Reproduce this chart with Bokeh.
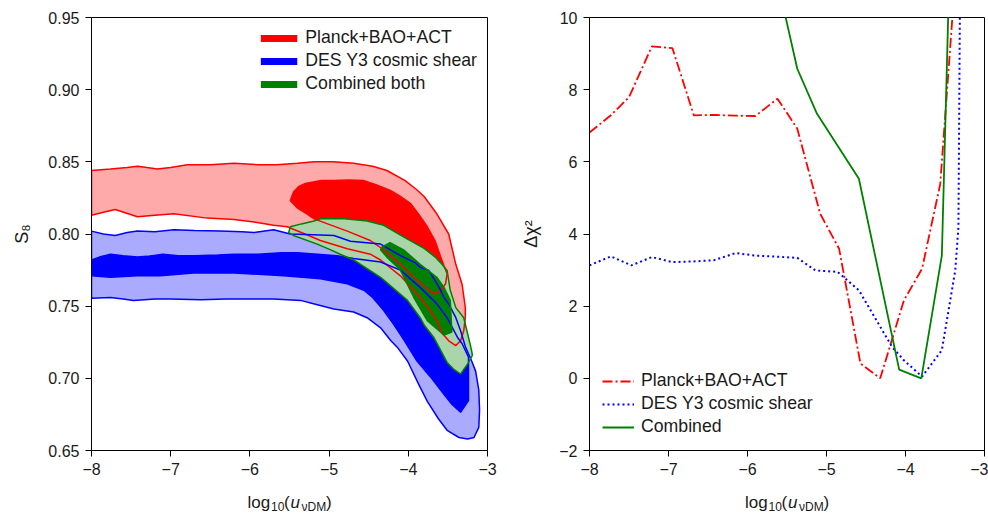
from bokeh.plotting import figure
from bokeh.layouts import row, column
from bokeh.models import Legend, LegendItem, FixedTicker
from bokeh.core.properties import value
from bokeh.embed import file_html
from bokeh.resources import INLINE

FONT = "Liberation Sans"

# ---------------- left panel: contour boundaries (log10 u, S8) ----------------
red_outer_x = [-8, -7.76, -7.55, -7.42, -7.3, -7.17, -7.0, -6.79, -6.5, -6.2, -5.9, -5.66, -5.4,
               -5.19, -4.95, -4.69, -4.45, -4.27, -4.04, -3.90, -3.80, -3.64, -3.49, -3.40, -3.32,
               -3.28, -3.28, -3.30, -3.34, -3.40, -3.49, -3.57, -3.64, -3.75, -3.85, -4.10, -4.35,
               -4.48, -4.77, -5.11, -5.35, -5.53, -5.70, -5.91, -6.2, -6.54, -6.96, -7.2, -7.42,
               -7.70, -7.85, -8]
red_outer_y = [0.844, 0.845, 0.846, 0.847, 0.846, 0.845, 0.846, 0.848, 0.848, 0.849, 0.848, 0.848, 0.849,
               0.850, 0.850, 0.849, 0.847, 0.844, 0.837, 0.831, 0.826, 0.814, 0.800, 0.779, 0.765,
               0.749, 0.742, 0.733, 0.726, 0.7227, 0.726, 0.731, 0.740, 0.749, 0.756, 0.771, 0.782,
               0.786, 0.7898, 0.7955, 0.801, 0.805, 0.806, 0.808, 0.810, 0.811, 0.814, 0.813, 0.812,
               0.817, 0.815, 0.813]

red_inner_x = [-5.49, -5.45, -5.38, -5.30, -5.1, -4.94, -4.75, -4.56, -4.4, -4.22, -4.1, -3.97, -3.86,
               -3.76, -3.66, -3.59, -3.55, -3.51, -3.53, -3.59, -3.66, -3.74, -3.91, -4.10, -4.31,
               -4.48, -4.77, -5.19, -5.28, -5.40]
red_inner_y = [0.823, 0.829, 0.833, 0.835, 0.837, 0.837, 0.8375, 0.837, 0.834, 0.830, 0.826, 0.821, 0.813,
               0.805, 0.795, 0.784, 0.778, 0.7725, 0.7655, 0.761, 0.7586, 0.761, 0.769, 0.779, 0.789,
               0.7955, 0.802, 0.8105, 0.814, 0.818]

blue_outer_x = [-8, -7.85, -7.70, -7.55, -7.42, -7.2, -6.96, -6.7, -6.37, -6.1, -5.95, -5.70, -5.49,
                -5.2, -4.94, -4.73, -4.35, -4.10, -3.91, -3.85, -3.74, -3.61, -3.55, -3.49, -3.40,
                -3.34, -3.28, -3.20, -3.15, -3.11, -3.10, -3.11, -3.17, -3.25, -3.36, -3.51, -3.62,
                -3.76, -3.87, -4.01, -4.14, -4.22, -4.35, -4.52, -4.69, -4.94, -5.15, -5.36, -5.7,
                -5.99, -6.3, -6.62, -7.0, -7.2, -7.47, -7.6, -7.76, -8]
blue_outer_y = [0.802, 0.800, 0.799, 0.801, 0.802, 0.8015, 0.803, 0.8025, 0.802, 0.8015, 0.801, 0.803, 0.800,
                0.7995, 0.799, 0.795, 0.793, 0.785, 0.780, 0.777, 0.7747, 0.763, 0.756, 0.7516, 0.742,
                0.733, 0.722, 0.712, 0.705, 0.692, 0.678, 0.666, 0.659, 0.658, 0.659, 0.664, 0.672,
                0.684, 0.696, 0.712, 0.7216, 0.726, 0.735, 0.742, 0.746, 0.748, 0.751, 0.754, 0.755,
                0.755, 0.755, 0.7544, 0.755, 0.755, 0.754, 0.755, 0.756, 0.7555]

blue_inner_x = [-8, -7.9, -7.76, -7.6, -7.42, -7.3, -7.1, -6.9, -6.7, -6.4, -6.2, -5.9, -5.6, -5.4,
                -5.15, -4.9, -4.69, -4.35, -4.10, -3.85, -3.64, -3.51, -3.38, -3.32, -3.24, -3.24,
                -3.34, -3.45, -3.55, -3.72, -3.89, -4.06, -4.18, -4.31, -4.45, -4.56, -4.77, -5.11,
                -5.57, -6.2, -6.71, -7.13, -7.42, -7.76, -8]
blue_inner_y = [0.782, 0.784, 0.786, 0.785, 0.784, 0.7845, 0.786, 0.785, 0.785, 0.7855, 0.786, 0.786, 0.787, 0.787,
                0.786, 0.785, 0.783, 0.7806, 0.775, 0.763, 0.7516, 0.742, 0.7285, 0.724, 0.7146, 0.6846,
                0.6765, 0.682, 0.689, 0.701, 0.712, 0.727, 0.737, 0.747, 0.756, 0.761, 0.7655, 0.769,
                0.771, 0.773, 0.773, 0.771, 0.771, 0.770, 0.771]

green_outer_x = [-5.51, -5.49, -5.35, -5.19, -5.11, -4.81, -4.52, -4.31, -4.06, -3.80, -3.66, -3.59,
                 -3.51, -3.47, -3.40, -3.30, -3.26, -3.21, -3.19, -3.25, -3.34, -3.42, -3.51, -3.68,
                 -3.80, -3.85, -4.01, -4.35, -4.69, -4.86, -4.98, -5.15, -5.45]
green_outer_y = [0.801, 0.805, 0.807, 0.809, 0.8105, 0.8105, 0.809, 0.806, 0.798, 0.790, 0.784, 0.780,
                 0.7747, 0.761, 0.749, 0.742, 0.733, 0.7216, 0.716, 0.710, 0.703, 0.706, 0.711, 0.7285,
                 0.737, 0.742, 0.754, 0.770, 0.782, 0.786, 0.789, 0.793, 0.799]

green_inner_x = [-4.35, -4.33, -4.23, -4.06, -3.85, -3.64, -3.55, -3.47, -3.45, -3.55, -3.76, -3.93,
                 -4.10, -4.27]
green_inner_y = [0.789, 0.791, 0.794, 0.789, 0.779, 0.770, 0.763, 0.754, 0.732, 0.730, 0.740, 0.756,
                 0.775, 0.784]

left_labels = ["Planck+BAO+ACT", "DES Y3 cosmic shear", "Combined both"]

# ---------------- right panel: delta chi^2 profiles ----------------
red_x = [-8, -7.73, -7.5, -7.21, -6.95, -6.68, -6.42, -6.16, -5.90, -5.62, -5.37, -5.08, -4.84,
         -4.57, -4.32, -4.02, -3.79, -3.56, -3.40, -3.30]
red_y = [6.81, 7.29, 7.79, 9.20, 9.15, 7.29, 7.30, 7.28, 7.27, 7.75, 6.92, 4.56, 3.59,
         0.41, 0.0, 2.16, 3.04, 5.39, 10.2, 14.0]

blue_x = [-8, -7.73, -7.47, -7.21, -6.95, -6.69, -6.43, -6.15, -5.90, -5.63, -5.37, -5.14, -4.86,
          -4.59, -4.17, -4.02, -3.79, -3.54, -3.37, -3.33, -3.30]
blue_y = [3.13, 3.38, 3.13, 3.36, 3.22, 3.24, 3.27, 3.47, 3.40, 3.37, 3.34, 2.99, 2.95,
          2.44, 0.87, 0.50, 0.05, 0.78, 2.99, 4.19, 14.0]

green_x = [-5.62, -5.37, -5.12, -4.59, -4.08, -3.80, -3.54, -3.46, -3.44]
green_y = [11.0, 8.58, 7.33, 5.53, 0.24, 0.0, 3.40, 10.0, 11.7]

right_labels = ["Planck+BAO+ACT", "DES Y3 cosmic shear", "Combined"]

# ---------------- ticks & axis label parts ----------------
x_ticks = [-8, -7, -6, -5, -4, -3]
x_tick_labels = ["\u22128", "\u22127", "\u22126", "\u22125", "\u22124", "\u22123"]
s8_ticks = [0.65, 0.70, 0.75, 0.80, 0.85, 0.90, 0.95]
s8_tick_labels = ["0.65", "0.70", "0.75", "0.80", "0.85", "0.90", "0.95"]
chi_ticks = [-2, 0, 2, 4, 6, 8, 10]
chi_tick_labels = ["\u22122", "0", "2", "4", "6", "8", "10"]
xlabel_parts = ["log", "10", "(", "u", "\u03bdDM", ")"]

RED, BLUE, GREEN = "#ff0000", "#0000ff", "#008000"
LRED, LBLUE, LGREEN = "#ffaaaa", "#aaaaff", "#aad5aa"
TXT = "#1a1a1a"

TOP, FRAME_H, BOTTOM = 17, 433, 32
H = TOP + FRAME_H + BOTTOM
LAB_H = 513 - H
W1, W2 = 515, 473
FW1, FW2 = 396, 395


def style(p, xt, xl, yt, yl):
    p.xgrid.grid_line_color = None
    p.ygrid.grid_line_color = None
    p.outline_line_color = "black"
    p.outline_line_width = 1
    p.xaxis.ticker = FixedTicker(ticks=xt)
    p.xaxis.major_label_overrides = dict(zip(xt, xl))
    p.yaxis.ticker = FixedTicker(ticks=yt)
    p.yaxis.major_label_overrides = dict(zip(yt, yl))
    for ax in p.xaxis + p.yaxis:
        ax.major_label_text_font = FONT
        ax.major_label_text_font_size = "16px"
        ax.major_label_text_color = TXT
        ax.major_tick_in = 0
        ax.major_tick_out = 6
        ax.minor_tick_line_color = None
        ax.axis_line_color = "black"
        ax.major_tick_line_color = "black"
        ax.axis_label_text_font = FONT
        ax.axis_label_text_font_size = "18px"
        ax.axis_label_text_font_style = "normal"
        ax.axis_label_text_color = TXT
    p.xaxis.major_label_standoff = 6
    p.yaxis.major_label_standoff = 6


def label_strip(width, frame_w):
    # strip below a panel (its frame is aligned with the panel frame) holding the
    # x label log10(u_nuDM) with real sub-scripts; x in pixels from the frame's left edge
    q = figure(width=width, height=LAB_H, x_range=(0, frame_w), y_range=(0, LAB_H),
               output_backend="svg", toolbar_location=None,
               x_axis_location=None, y_axis_location=None,
               min_border=0, min_border_left=0, min_border_right=0,
               min_border_top=0, min_border_bottom=0)
    q.outline_line_color = None
    q.xgrid.grid_line_color = None
    q.ygrid.grid_line_color = None
    x0 = frame_w / 2 - 42
    yb, ys = 11, 7
    offs = [0, 23.5, 36.5, 43, 54, 78.5]
    ypos = [yb, ys, yb, yb, ys, yb]
    sizes = ["17px", "12px", "17px", "17px", "12px", "17px"]
    styles = ["normal", "normal", "normal", "italic", "normal", "normal"]
    for txt, off, yy, fs, st in zip(xlabel_parts, offs, ypos, sizes, styles):
        q.text(x=[x0 + off], y=[yy], text=[txt], text_font=value(FONT),
               text_font_size=value(fs), text_font_style=value(st),
               text_color=TXT, text_baseline="alphabetic", text_align="left")
    return q


# ---------------- left figure ----------------
p1 = figure(width=W1, height=H, x_range=(-8, -3), y_range=(0.65, 0.95),
            output_backend="svg", toolbar_location=None,
            min_border_left=91, min_border_right=28, min_border_top=TOP, min_border_bottom=BOTTOM)
style(p1, x_ticks, x_tick_labels, s8_ticks, s8_tick_labels)
p1.yaxis.axis_label = "S\u2088"
p1.yaxis.axis_label_standoff = 13

p1.patch(red_outer_x, red_outer_y, fill_color=LRED, line_color=None)
p1.patch(blue_outer_x, blue_outer_y, fill_color=LBLUE, line_color=None)
p1.patch(red_inner_x, red_inner_y, fill_color=RED, line_color=None)
p1.patch(blue_inner_x, blue_inner_y, fill_color=BLUE, line_color=None)
p1.patch(green_outer_x, green_outer_y, fill_color=LGREEN, line_color=None)
p1.patch(green_inner_x, green_inner_y, fill_color=GREEN, line_color=None)
for xs, ys, c in [(red_outer_x, red_outer_y, RED), (red_inner_x, red_inner_y, RED),
                  (blue_outer_x, blue_outer_y, BLUE), (blue_inner_x, blue_inner_y, BLUE),
                  (green_outer_x, green_outer_y, GREEN), (green_inner_x, green_inner_y, GREEN)]:
    p1.patch(xs, ys, fill_color=None, line_color=c, line_width=1.5)

nan = float("nan")
leg1_items = []
for lab, c in zip(left_labels, [RED, BLUE, GREEN]):
    r = p1.line(x=[nan], y=[nan], line_color=c, line_width=7)
    leg1_items.append(LegendItem(label=lab, renderers=[r]))
leg1 = Legend(items=leg1_items, location="top_right", margin=10, padding=0, spacing=2,
              glyph_width=37, glyph_height=20, label_height=20, label_standoff=8,
              label_text_font=FONT, label_text_font_size="17.7px", label_text_color=TXT,
              background_fill_alpha=0, border_line_alpha=0)
p1.add_layout(leg1)
q1 = label_strip(W1, FW1)

# ---------------- right figure ----------------
p2 = figure(width=W2, height=H, x_range=(-8, -3), y_range=(-2, 10),
            output_backend="svg", toolbar_location=None,
            min_border_left=74, min_border_right=4, min_border_top=TOP, min_border_bottom=BOTTOM)
style(p2, x_ticks, x_tick_labels, chi_ticks, chi_tick_labels)
p2.yaxis.axis_label = "\u0394\u03c7\u00b2"
p2.yaxis.axis_label_standoff = 15

r_red = p2.line(red_x, red_y, line_color=RED, line_width=1.8, line_dash="10 3 2 3")
r_blue = p2.line(blue_x, blue_y, line_color=BLUE, line_width=2, line_dash="2 3")
r_green = p2.line(green_x, green_y, line_color=GREEN, line_width=1.8)
leg2 = Legend(items=[LegendItem(label=right_labels[0], renderers=[r_red]),
                     LegendItem(label=right_labels[1], renderers=[r_blue]),
                     LegendItem(label=right_labels[2], renderers=[r_green])],
              location="bottom_left", margin=13, padding=0, spacing=2,
              glyph_width=32, glyph_height=20, label_height=20, label_standoff=7,
              label_text_font=FONT, label_text_font_size="17.7px", label_text_color=TXT,
              background_fill_alpha=0, border_line_alpha=0)
p2.add_layout(leg2)
q2 = label_strip(W2, FW2)

layout = row(column(p1, q1), column(p2, q2))
open("out.html", "w").write(file_html(layout, INLINE))
